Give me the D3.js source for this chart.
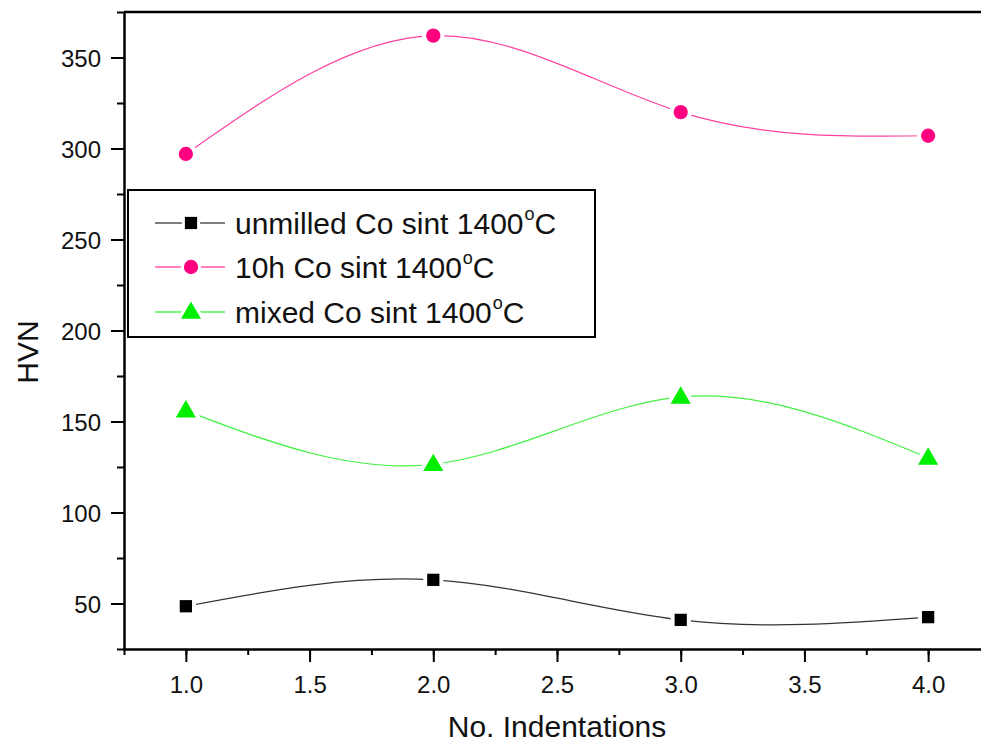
<!DOCTYPE html>
<html>
<head>
<meta charset="utf-8">
<script src="https://cdn.jsdelivr.net/npm/d3@7"></script>
<style>
    body { margin: 0; background: #fff; }
    svg { display: block; font-family: Arial, "Liberation Sans", sans-serif; }
</style>
</head>
<body>
<svg id="chart" width="981" height="744"></svg>
<script>
// data
const indentations = [1, 2, 3, 4];
const unmilled = [48.5, 63, 41, 42.5];
const milled10h = [297, 362, 320, 307];
const mixed = [156, 126.5, 163.5, 130];

const seriesNames = ["unmilled Co sint 1400", "10h Co sint 1400", "mixed Co sint 1400"];
const seriesColors = ["#000000", "#ff0080", "#00ee00"];
const seriesShapes = [d3.symbolSquare, d3.symbolCircle, d3.symbolTriangle];
const seriesValues = [unmilled, milled10h, mixed];

const xTicks = [1.0, 1.5, 2.0, 2.5, 3.0, 3.5, 4.0];
const yTicks = [50, 100, 150, 200, 250, 300, 350];

const svg = d3.select("#chart");
const margin = { top: 12, left: 124, bottom: 649 };

const x = d3.scaleLinear().domain([0.75, 4.25]).range([margin.left, 990]);
const y = d3.scaleLinear().domain([25, 375]).range([margin.bottom, margin.top]);

// minor ticks
svg.append("g")
    .attr("transform", `translate(0,${margin.bottom})`)
    .call(d3.axisBottom(x).tickValues(d3.range(0.75, 4.3, 0.25)).tickSize(6).tickFormat(""))
    .call(g => g.select(".domain").remove())
    .selectAll("line").attr("stroke-width", 2);
svg.append("g")
    .attr("transform", `translate(${margin.left},0)`)
    .call(d3.axisLeft(y).tickValues(d3.range(25, 376, 25)).tickSize(7).tickFormat(""))
    .call(g => g.select(".domain").remove())
    .selectAll("line").attr("stroke-width", 2);

// major ticks + labels
const xAxis = svg.append("g")
    .attr("transform", `translate(0,${margin.bottom})`)
    .call(d3.axisBottom(x).tickValues(xTicks).tickSize(13).tickSizeOuter(0).tickPadding(10).tickFormat(d3.format(".1f")));
const yAxis = svg.append("g")
    .attr("transform", `translate(${margin.left},0)`)
    .call(d3.axisLeft(y).tickValues(yTicks).tickSize(13).tickSizeOuter(0).tickPadding(10));

[xAxis, yAxis].forEach(g => {
    g.attr("font-size", null).attr("font-family", null);
    g.select(".domain").attr("stroke-width", 2.5);
    g.selectAll("line").attr("stroke-width", 2);
    g.selectAll("text")
        .style("font-size", "24px")
        .style("font-family", "Arial, 'Liberation Sans', sans-serif")
        .attr("fill", "#111");
});
yAxis.selectAll("text").attr("dy", "0.36em");
xAxis.selectAll("text").attr("dy", "0.88em");

// top frame line
svg.append("line")
    .attr("x1", x(0.75)).attr("x2", x(4.25))
    .attr("y1", y(375)).attr("y2", y(375))
    .attr("stroke", "#000").attr("stroke-width", 2.5);

// axis titles
svg.append("text")
    .attr("transform", `translate(${(x(1) + x(4)) / 2},737)`)
    .attr("text-anchor", "middle")
    .attr("font-size", 30)
    .attr("fill", "#111")
    .text("No. Indentations");
svg.append("text")
    .attr("transform", `translate(38,352) rotate(-90)`)
    .attr("text-anchor", "middle")
    .attr("font-size", 30)
    .attr("fill", "#111")
    .text("HVN");

// curves
const line = d3.line()
    .x((d, i) => x(indentations[i]))
    .y(d => y(d))
    .curve(d3.curveNatural);

seriesValues.forEach((vals, s) => {
    svg.append("path")
        .datum(vals)
        .attr("d", line)
        .attr("fill", "none")
        .attr("stroke", seriesColors[s])
        .attr("stroke-opacity", s === 0 ? 0.8 : 0.75)
        .attr("stroke-width", 1.2);
});

const symbolSizes = [150, 160, 175];
seriesValues.forEach((vals, s) => {
    const sym = d3.symbol().type(seriesShapes[s]).size(symbolSizes[s]);
    const g = svg.append("g");
    // white halo to leave a gap in the line like the original
    g.selectAll(".halo")
        .data(vals)
        .enter()
        .append("path")
        .attr("transform", (d, i) => `translate(${x(indentations[i])},${y(d) + (s === 2 ? 1 : 0)})`)
        .attr("d", sym)
        .attr("fill", "#fff")
        .attr("stroke", "#fff")
        .attr("stroke-width", 8);
    g.selectAll(".mark")
        .data(vals)
        .enter()
        .append("path")
        .attr("transform", (d, i) => `translate(${x(indentations[i])},${y(d) + (s === 2 ? 1 : 0)})`)
        .attr("d", sym)
        .attr("fill", seriesColors[s]);
});

// legend
const legend = svg.append("g");
legend.append("rect")
    .attr("x", 128).attr("y", 190)
    .attr("width", 467).attr("height", 147)
    .attr("fill", "#fff")
    .attr("stroke", "#000")
    .attr("stroke-width", 2);

const rowY = [223, 267, 312];
seriesNames.forEach((name, s) => {
    const row = legend.append("g").attr("transform", `translate(0,${rowY[s]})`);
    row.append("line")
        .attr("x1", 155).attr("x2", 225)
        .attr("stroke", seriesColors[s])
        .attr("stroke-width", 1.2);
    row.append("path")
        .attr("transform", `translate(191,${s === 2 ? 1 : 0})`)
        .attr("d", d3.symbol().type(seriesShapes[s]).size(symbolSizes[s])())
        .attr("fill", seriesColors[s])
        .attr("stroke", "#fff")
        .attr("stroke-width", 6)
        .attr("paint-order", "stroke");
    const t = row.append("text")
        .attr("transform", `translate(235,11)`)
        .attr("font-size", 30)
        .attr("fill", "#111");
    t.append("tspan").text(name);
    t.append("tspan").attr("font-size", 18).attr("dy", -14).attr("dx", 1).text("o");
    t.append("tspan").attr("dy", 14).text("C");
});
</script>
</body>
</html>
